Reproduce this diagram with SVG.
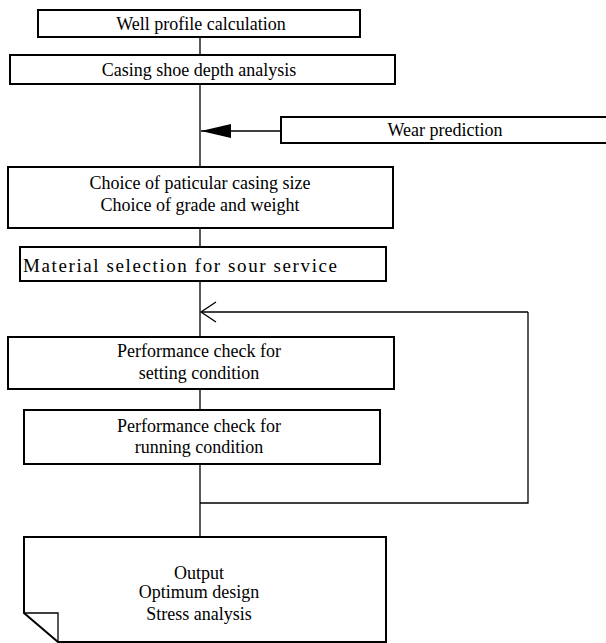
<svg xmlns="http://www.w3.org/2000/svg" width="606" height="643" viewBox="0 0 606 643">
<style>
.box{fill:#fff;stroke:#000;stroke-width:2}
.ln{fill:none;stroke:#000;stroke-width:1.3}
text{font-family:"Liberation Serif","Times New Roman",serif;font-size:18px;fill:#000;text-anchor:middle}
</style>
<defs>
<marker id="solid" markerWidth="30" markerHeight="14" refX="30" refY="7" orient="auto" markerUnits="userSpaceOnUse">
<path d="M0,0 L30,7 L0,14 Z" fill="#000"/>
</marker>
</defs>
<g id="connectors">
<line class="ln" x1="200" y1="37" x2="200" y2="55"/>
<line class="ln" x1="200" y1="84" x2="200" y2="167"/>
<line class="ln" x1="281" y1="131" x2="201" y2="131" marker-end="url(#solid)"/>
<line class="ln" x1="200" y1="228" x2="200" y2="247"/>
<line class="ln" x1="200" y1="281" x2="200" y2="337"/>
<polyline class="ln" points="528,312 201,312"/>
<polyline class="ln" points="216,302 201,312 216,322"/>
<line class="ln" x1="200" y1="389" x2="200" y2="410"/>
<line class="ln" x1="200" y1="464" x2="200" y2="537"/>
<polyline class="ln" points="200,503 528,503 528,312"/>
</g>
<g id="n1"><rect class="box" x="38" y="10" width="322" height="27"/><text x="201" y="30">Well profile calculation</text></g>
<g id="n2"><rect class="box" x="10" y="55" width="385" height="29"/><text x="199" y="76">Casing shoe depth analysis</text></g>
<g id="n3"><path class="box" d="M607,117 L281,117 L281,143 L607,143"/><text x="445" y="136">Wear prediction</text></g>
<g id="n4"><rect class="box" x="8" y="167" width="385" height="61"/><text x="200" y="189">Choice of paticular casing size</text><text x="200" y="211">Choice of grade and weight</text></g>
<g id="n5"><rect class="box" x="20" y="247" width="366" height="34"/><text x="180" y="272" style="font-size:19px" textLength="314" lengthAdjust="spacing">Material selection for sour service</text></g>
<g id="n6"><rect class="box" x="8" y="337" width="386" height="52"/><text x="199" y="357">Performance check for</text><text x="199" y="379">setting condition</text></g>
<g id="n7"><rect class="box" x="24" y="410" width="356" height="54"/><text x="199" y="432">Performance check for</text><text x="199" y="453">running condition</text></g>
<g id="n8"><path class="box" d="M24,537 L386,537 L386,642 L58,642 L24,613 Z"/><polyline class="ln" points="24,613 58,613 58,642"/><text x="199" y="579">Output</text><text x="199" y="598">Optimum design</text><text x="199" y="620">Stress analysis</text></g>
</svg>
